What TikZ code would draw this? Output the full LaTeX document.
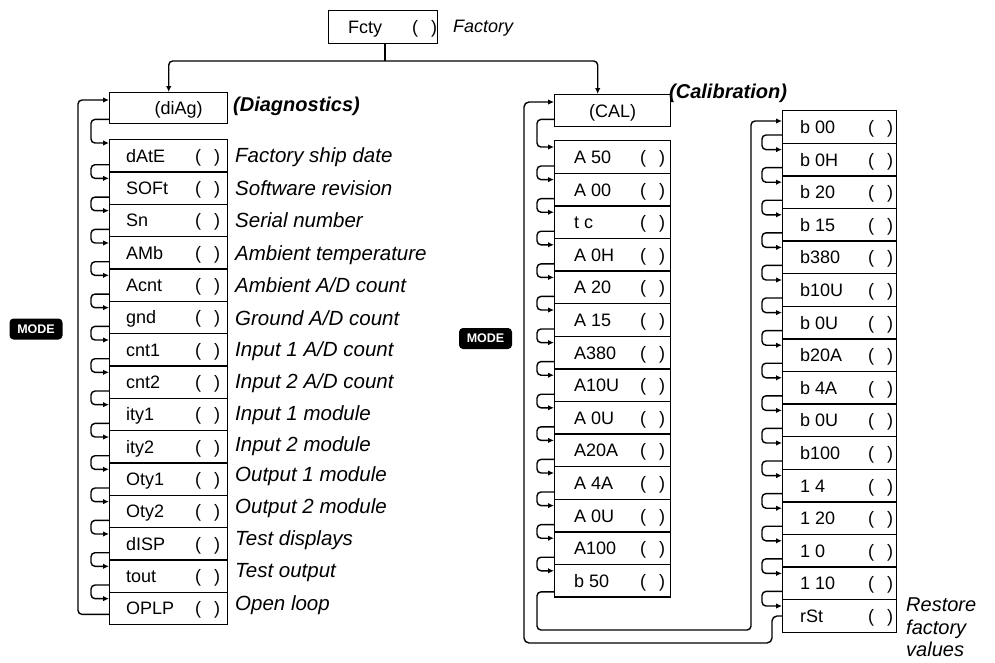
\documentclass[tikz,border=0pt]{standalone}
\usepackage{fontspec}
\setmainfont{Liberation Sans}
\usetikzlibrary{arrows.meta}
\begin{document}
\begin{tikzpicture}[x=1pt,y=-1pt,
 box/.style={draw, line width=1.4pt, inner sep=0pt, anchor=north west},
 lbl/.style={inner sep=0pt, text height=12.9pt, text depth=0pt, font=\fontsize{18}{20}\selectfont},
 dsc/.style={inner sep=0pt, anchor=west, text height=14.5pt, text depth=0pt, font=\fontsize{20.5}{22}\selectfont\itshape},
 hd/.style={inner sep=0pt, anchor=west, text height=14.3pt, text depth=0pt, font=\fontsize{20}{22}\selectfont\bfseries\itshape},
 link/.style={line width=1.4pt, rounded corners=4pt, -{Latex[length=6pt,width=5.5pt]}},
 plain/.style={line width=1.4pt, rounded corners=4pt},
 modebox/.style={fill=black, text=white, rounded corners=4pt, minimum width=53pt, minimum height=21pt, inner sep=0pt, font=\fontsize{12.5}{14}\selectfont\bfseries}
]
\useasboundingbox (0,0) rectangle (995,662);

% top
\node[box, minimum width=109pt, minimum height=33pt] (fcty) at (328,10) {};
\node[lbl, anchor=west] (fcty-t) at ([xshift=20pt]fcty.west) {Fcty};
\node[lbl, anchor=east] (fcty-p) at ([xshift=-1pt]fcty.east) {(\hspace{13pt})};
\node[dsc, font=\fontsize{18}{20}\selectfont\itshape] (fctyd) at (453,25) {Factory};

\node[box, minimum width=118pt, minimum height=31pt] (diag) at (109,92) {};
\node[lbl] (diag-t) at ([xshift=10pt]diag.center) {(diAg)};
\node[hd] (diagd) at (233,104) {(Diagnostics)};

\node[box, minimum width=116pt, minimum height=32pt] (cal) at (554,94) {};
\node[lbl] (cal-t) at (cal.center) {(CAL)};
\node[hd] (cald) at (669,91) {(Calibration)};

\coordinate (jn) at (385,61);
\draw[plain] (fcty.south -| jn) -- (jn);
\draw[link] (jn) -| (diag.north);
\draw[link] (jn) -| ([xshift=-15pt]cal.north);

% left list
\foreach \t [count=\i] in {dAtE,SOFt,Sn,AMb,Acnt,gnd,cnt1,cnt2,ity1,ity2,Oty1,Oty2,dISP,tout,OPLP} {
  \node[box, minimum width=118pt, minimum height=32.33pt] (L\i) at (109,{139+32.33*(\i-1)}) {};
  \node[lbl, anchor=west] (L\i-t) at ([xshift=17pt]L\i.west) {\t};
  \node[lbl, anchor=east] (L\i-p) at ([xshift=-8pt]L\i.east) {(\hspace{13pt})};
}
\foreach \i [evaluate=\i as \j using int(\i+1)] in {1,...,14} {
  \draw[link] ([yshift=8pt]L\i.south west) -- ++(-18,0) |- ([yshift=-7pt]L\j.north west);
}
\draw[link] ([yshift=5pt]diag.south west) -- ++(-18,0) |- ([yshift=-4pt]L1.north west);
\draw[link] ([yshift=11pt]L15.south west) -- ++(-31,0) |- ([yshift=-8pt]diag.north west);

\node[dsc] (dl1) at (235,155) {Factory ship date};
\node[dsc] (dl2) at (235,188) {Software revision};
\node[dsc] (dl3) at (235,220) {Serial number};
\node[dsc] (dl4) at (235,253) {Ambient temperature};
\node[dsc] (dl5) at (235,285) {Ambient A/D count};
\node[dsc] (dl6) at (235,318) {Ground A/D count};
\node[dsc] (dl7) at (235,349) {Input 1 A/D count};
\node[dsc] (dl8) at (235,381) {Input 2 A/D count};
\node[dsc] (dl9) at (235,413) {Input 1 module};
\node[dsc] (dl10) at (235,444) {Input 2 module};
\node[dsc] (dl11) at (235,474) {Output 1 module};
\node[dsc] (dl12) at (235,506) {Output 2 module};
\node[dsc] (dl13) at (235,538) {Test displays};
\node[dsc] (dl14) at (235,570) {Test output};
\node[dsc] (dl15) at (235,603) {Open loop};

\node[modebox] (mode1) at (36,329) {MODE};
\node[modebox] (mode2) at (485.5,338.5) {MODE};

% CAL list
\foreach \t [count=\i] in {A 50,A 00,t c,A 0H,A 20,A 15,A380,A10U,A 0U,A20A,A 4A,A 0U,A100,b 50} {
  \node[box, minimum width=116pt, minimum height=32.6pt] (A\i) at (554,{140+32.6*(\i-1)}) {};
  \node[lbl, anchor=west] (A\i-t) at ([xshift=20pt]A\i.west) {\t};
  \node[lbl, anchor=east] (A\i-p) at ([xshift=-6pt]A\i.east) {(\hspace{13pt})};
}
\foreach \i [evaluate=\i as \j using int(\i+1)] in {1,...,13} {
  \draw[link] ([yshift=8pt]A\i.south west) -- ++(-17,0) |- ([yshift=-7pt]A\j.north west);
}
\draw[link] ([yshift=8pt]cal.south west) -- ++(-17,0) |- ([yshift=-7pt]A1.north west);

% b list
\foreach \t [count=\i] in {b 00,b 0H,b 20,b 15,b380,b10U,b 0U,b20A,b 4A,b 0U,b100,1 4,1 20,1 0,1 10,rSt} {
  \node[box, minimum width=114pt, minimum height=32.6pt] (B\i) at (782,{110+32.6*(\i-1)}) {};
  \node[lbl, anchor=west] (B\i-t) at ([xshift=18pt]B\i.west) {\t};
  \node[lbl, anchor=east] (B\i-p) at ([xshift=-4pt]B\i.east) {(\hspace{13pt})};
}
\foreach \i [evaluate=\i as \j using int(\i+1)] in {1,...,15} {
  \draw[link] ([yshift=9pt]B\i.south west) -- ++(-20,0) |- ([yshift=-7pt]B\j.north west);
}
\node[inner sep=0pt, anchor=north west, align=left, font=\fontsize{20}{22.5}\selectfont\itshape] (rstd) at (906,598) {Restore\\factory\\values};

% loops
\coordinate (c1) at (751,630);
\draw[link] ([yshift=6pt]A14.south west) -- ++(-17,0) |- (c1) |- ([yshift=-11pt]B1.north west);
\coordinate (c2) at (524,643);
\draw[link, rounded corners=5pt] ([yshift=17pt]B16.south west) -- ++(-10,0) |- (c2) |- ([yshift=-8pt]cal.north west);
\end{tikzpicture}
\end{document}
